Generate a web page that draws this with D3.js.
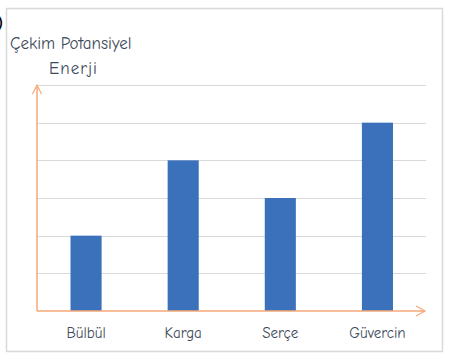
<!DOCTYPE html>
<html><head><meta charset="utf-8">
<script src="https://cdn.jsdelivr.net/npm/d3@7"></script>
<style>body{margin:0;background:#fff}svg{display:block}</style>
</head><body>
<script>
const categories = ["Bülbül", "Karga", "Serçe", "Güvercin"];
const values = [2, 4, 3, 5];
const yTicks = [0, 1, 2, 3, 4, 5, 6];
const titleLines = ["Çekim Potansiyel", "Enerji"];

const W = 454, H = 359;
const svg = d3.select("body").append("svg").attr("width", W).attr("height", H);
const font = "'Comic Sans MS','Comic Neue','Lato',sans-serif";
const orange = "#f6a877";

// frame
svg.append("rect").attr("x", 6.5).attr("y", 8.5).attr("width", 436).attr("height", 343)
  .attr("fill", "#fff").attr("stroke", "#d9d9d9").attr("stroke-width", 1.5);
svg.append("text").attr("x", -3).attr("y", 29).attr("font-family", font)
  .attr("font-size", 17).attr("font-weight", "bold").attr("fill", "#000").text(")");

const x0 = 37, x1 = 426, yBase = 311, yTop = 85;
const x = d3.scaleBand().domain(categories).range([x0 + 0.5, x1]).paddingInner(0.68).paddingOuter(0.34);
const y = d3.scaleLinear().domain([0, 6]).range([yBase, yTop]);

// gridlines
svg.append("g").selectAll("line").data(yTicks.slice(1)).join("line")
  .attr("x1", x0).attr("x2", x1)
  .attr("y1", d => Math.round(y(d)) + 0.5).attr("y2", d => Math.round(y(d)) + 0.5)
  .attr("stroke", "#d9d9d9").attr("stroke-width", 1.2);

// bars
svg.append("g").selectAll("rect").data(values).join("rect")
  .attr("x", (d, i) => x(categories[i]))
  .attr("width", x.bandwidth())
  .attr("y", d => y(d))
  .attr("height", d => yBase - y(d))
  .attr("fill", "#3b70ba");

// axes
svg.append("line").attr("x1", x0).attr("x2", x0).attr("y1", yBase).attr("y2", yTop)
  .attr("stroke", orange).attr("stroke-width", 1.5);
svg.append("path").attr("d", `M${x0-4.5},${yTop+9}L${x0},${yTop}L${x0+4.5},${yTop+9}`)
  .attr("fill", "none").attr("stroke", orange).attr("stroke-width", 1.2);
svg.append("line").attr("x1", x0).attr("x2", x1 - 1).attr("y1", yBase).attr("y2", yBase)
  .attr("stroke", orange).attr("stroke-width", 1.5);
svg.append("path").attr("d", `M${x1-10},${yBase-5}L${x1-1},${yBase}L${x1-10},${yBase+5}`)
  .attr("fill", "none").attr("stroke", orange).attr("stroke-width", 1.2);

// category labels
svg.append("g").selectAll("text").data(categories).join("text")
  .attr("x", d => x(d) + x.bandwidth() / 2)
  .attr("y", 338)
  .attr("text-anchor", "middle")
  .attr("font-family", font).attr("font-size", 15).attr("fill", "#404a5a")
  .text(d => d);

// y title
svg.append("text").attr("x", 10).attr("y", 49).attr("font-family", font)
  .attr("font-size", 17).attr("fill", "#404a5a").text(titleLines[0]);
svg.append("text").attr("x", 49).attr("y", 74).attr("font-family", font)
  .attr("font-size", 17).attr("fill", "#404a5a").attr("letter-spacing", 1).text(titleLines[1]);
</script>
</body></html>
